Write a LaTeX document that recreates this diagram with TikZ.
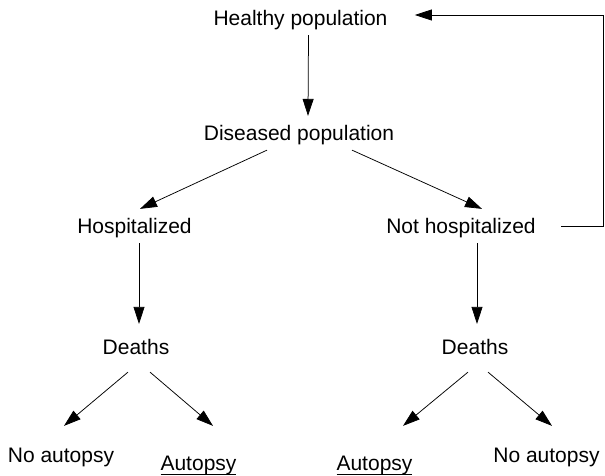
\documentclass[tikz,border=0pt]{standalone}
\usepackage{fontspec}
\setmainfont{Liberation Sans}
\usetikzlibrary{arrows.meta}
\tikzset{>={Triangle[length=17pt,width=11pt]}}
\newcommand\undl[1]{\setbox0\hbox{#1}\rlap{\rule[-4.6pt]{\wd0}{1.3pt}}\box0}

\begin{document}
\begin{tikzpicture}[x=1pt, y=-1pt, line width=0.75pt]
    \tikzset{%
      lbl/.style={inner xsep=0pt, inner ysep=5pt, text height=19pt, text depth=4.5pt,
                  font=\fontsize{21}{25}\selectfont},
      leaf/.style={lbl}
      }
     \useasboundingbox (0,0) rectangle (605,476);

     \node [lbl] (healthy) at (300.5, 18) {Healthy population};
     \node [lbl] (diseased) at (299, 133) {Diseased population};

     \node [lbl] (hosp) at (134.5, 226) {Hospitalized};
     \node [lbl] (nothosp) at (461, 226) {Not hospitalized};

     \node [lbl] (deathsL) at (136, 347) {Deaths};
     \node [lbl] (deathsR) at (475, 347) {Deaths};

     \node [leaf] (noautL) at (61, 455) {No autopsy};
     \node [leaf] (autL) at (198.5, 463) {\undl{Autopsy}};
     \node [leaf] (autR) at (374.5, 463) {\undl{Autopsy}};
     \node [leaf] (noautR) at (546.5, 455) {No autopsy};

     \draw [->] ([xshift=8pt]healthy.south) -- ([xshift=9pt]diseased.north);

     \draw [->] ([xshift=-32pt]diseased.south) -- ([xshift=5.5pt]hosp.north);
     \draw [->] ([xshift=53pt]diseased.south) -- ([xshift=21pt]nothosp.north);

     \draw [->] ([xshift=4.5pt]hosp.south) -- ([xshift=3pt, yshift=6pt]deathsL.north);
     \draw [->] ([xshift=16pt]nothosp.south) -- ([xshift=2pt, yshift=6pt]deathsR.north);

     \draw [->] ([xshift=-8pt, yshift=-8pt]deathsL.south) -- ([xshift=3pt, yshift=12pt]noautL.north);
     \draw [->] ([xshift=14pt, yshift=-8pt]deathsL.south) -- ([xshift=14.5pt, yshift=20pt]autL.north);
     \draw [->] ([xshift=-7pt, yshift=-8pt]deathsR.south) -- ([xshift=28.5pt, yshift=20pt]autR.north);
     \draw [->] ([xshift=13pt, yshift=-8pt]deathsR.south) -- ([xshift=5.5pt, yshift=12pt]noautR.north);

     % back to the healthy population
     \coordinate (fbcorner) at (603, 15);
     \draw [->] ([xshift=25pt]nothosp.east) -| (fbcorner) -- ([xshift=27pt, yshift=3pt]healthy.east);

  \end{tikzpicture}
\end{document}
